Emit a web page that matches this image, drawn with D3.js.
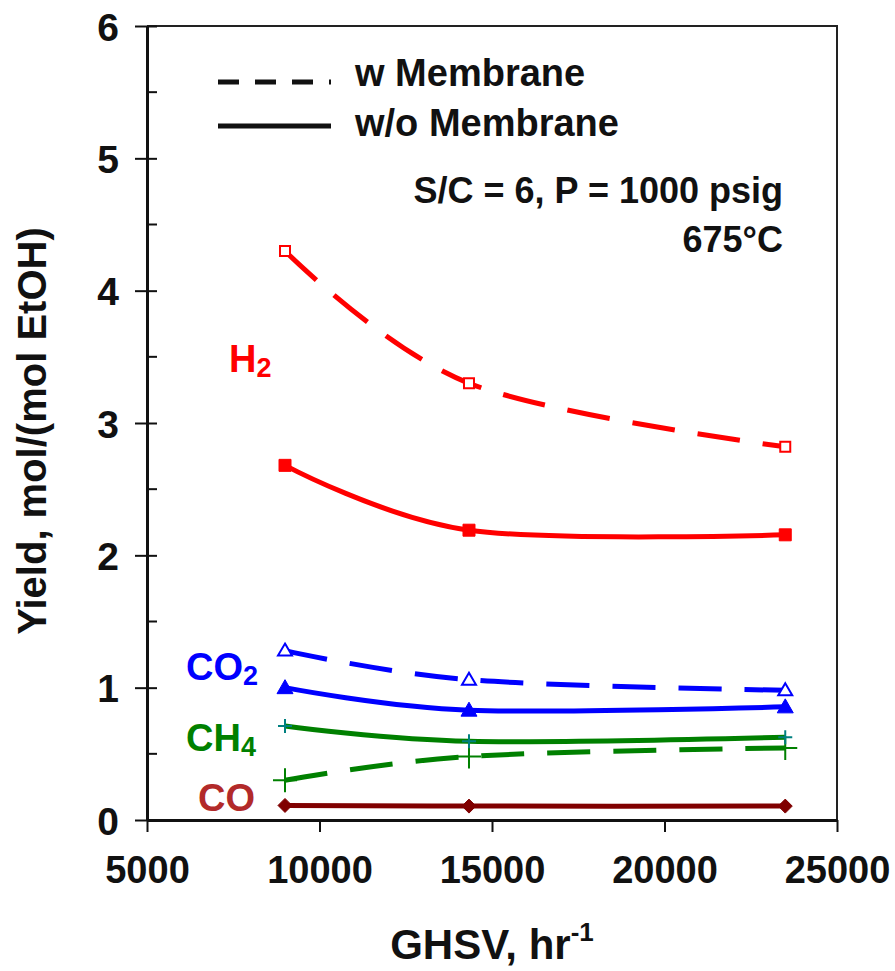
<!DOCTYPE html>
<html>
<head>
<meta charset="utf-8">
<script src="https://cdn.jsdelivr.net/npm/d3@7"></script>
<style>
  body { margin: 0; background: #fff; }
  svg text { font-family: "Liberation Sans", Arial, sans-serif; font-weight: bold; }
</style>
</head>
<body>
<div id="chart"></div>
<script>
// data
const ghsv = [9000, 14333, 23500]
const h2With = [4.30, 3.30, 2.82]
const h2Without = [2.68, 2.19, 2.155]
const co2With = [1.28, 1.06, 0.98]
const co2Without = [1.00, 0.83, 0.855]
const ch4With = [0.30, 0.48, 0.545]
const ch4Without = [0.71, 0.595, 0.625]
const coWithout = [0.11, 0.105, 0.105]

const xTicks = [5000, 10000, 15000, 20000, 25000]
const yTicks = [0, 1, 2, 3, 4, 5, 6]
const yMinor = [0.5, 1.5, 2.5, 3.5, 4.5, 5.5]

const W = 895, H = 971
const margin = { top: 26, right: 58, bottom: 151, left: 147 }

const x = d3.scaleLinear().domain([5000, 25000]).range([margin.left, W - margin.right])
const y = d3.scaleLinear().domain([0, 6]).range([H - margin.bottom, margin.top])

const svg = d3.select('#chart').append('svg')
    .attr('width', W)
    .attr('height', H)

// frame (top, right)
svg.append('path')
    .attr('d', `M${x(5000)},${y(6)}H${x(25000)}V${y(0)}`)
    .attr('fill', 'none')
    .attr('stroke', '#222')
    .attr('stroke-width', 2)

// x axis
const xAxis = svg.append('g')
    .attr('transform', `translate(0,${y(0)})`)
    .call(d3.axisBottom(x).tickValues(xTicks).tickSize(12).tickSizeOuter(0).tickFormat(d3.format('d')))
xAxis.select('.domain').attr('stroke', '#111').attr('stroke-width', 3)
xAxis.selectAll('.tick line').attr('stroke', '#111').attr('stroke-width', 2)
xAxis.selectAll('.tick text')
    .attr('fill', '#111')
    .attr('font-size', 38)
    .attr('dy', '1.25em')

// y axis, major ticks cross the axis
const yAxis = svg.append('g')
    .attr('transform', `translate(${x(5000)},0)`)
    .call(d3.axisLeft(y).tickValues(yTicks).tickSize(12).tickSizeOuter(0).tickPadding(16).tickFormat(d3.format('d')))
yAxis.select('.domain').attr('stroke', '#111').attr('stroke-width', 3)
yAxis.selectAll('.tick line').attr('stroke', '#111').attr('stroke-width', 2).attr('x2', 10).attr('x1', -12)
yAxis.selectAll('.tick text')
    .attr('fill', '#111')
    .attr('font-size', 39)
    .attr('dy', '0.36em')

svg.append('g').selectAll('line')
    .data(yMinor)
    .enter().append('line')
    .attr('x1', x(5000))
    .attr('x2', x(5000) + 10)
    .attr('y1', d => y(d))
    .attr('y2', d => y(d))
    .attr('stroke', '#111')
    .attr('stroke-width', 2)

// axis titles
svg.append('text')
    .attr('x', 492)
    .attr('y', 959)
    .attr('text-anchor', 'middle')
    .attr('font-size', 42)
    .attr('fill', '#111')
    .text('GHSV, hr')
    .append('tspan')
    .attr('font-size', 26)
    .attr('dy', -18)
    .text('-1')

svg.append('text')
    .attr('transform', `translate(46,${(y(0) + y(6)) / 2 + 8}) rotate(-90)`)
    .attr('text-anchor', 'middle')
    .attr('font-size', 40)
    .attr('fill', '#111')
    .text('Yield, mol/(mol EtOH)')

// series
const series = [
    { vals: h2With, color: '#ff0000', dash: true, marker: 'squareOpen', mcolor: '#ff0000' },
    { vals: h2Without, color: '#ff0000', dash: false, marker: 'square', mcolor: '#ff0000' },
    { vals: co2With, color: '#0000ff', dash: true, marker: 'triangleOpen', mcolor: '#0000ff' },
    { vals: co2Without, color: '#0000ff', dash: false, marker: 'triangle', mcolor: '#0000ff' },
    { vals: ch4With, color: '#008000', dash: true, marker: 'plusBig', mcolor: '#008000' },
    { vals: ch4Without, color: '#008000', dash: false, marker: 'plus', mcolor: '#008080' },
    { vals: coWithout, color: '#800000', dash: false, marker: 'diamond', mcolor: '#800000' }
]

const line = d3.line()
    .x((d, i) => x(ghsv[i]))
    .y(d => y(d))
    .curve(d3.curveCardinal.tension(0))

const markerPath = {
    squareOpen: 'M-5,-5H5V5H-5Z',
    square: 'M-6,-6H6V6H-6Z',
    triangleOpen: 'M0,-7L7,5H-7Z',
    triangle: 'M0,-8L8,6H-8Z',
    plus: 'M-7,0H7M0,-7V7',
    plusBig: 'M-12,0H12M0,-12V12',
    diamond: 'M0,-7L7,0L0,7L-7,0Z'
}

series.forEach(s => {
    svg.append('path')
        .attr('d', line(s.vals))
        .attr('fill', 'none')
        .attr('stroke', s.color)
        .attr('stroke-width', 5)
        .attr('stroke-dasharray', s.dash ? '43,23' : null)

    const filled = ['square', 'triangle', 'diamond'].includes(s.marker)
    const open = ['squareOpen', 'triangleOpen'].includes(s.marker)
    svg.append('g').selectAll('path')
        .data(s.vals)
        .enter().append('path')
        .attr('transform', (d, i) => `translate(${x(ghsv[i])},${y(d)})`)
        .attr('d', markerPath[s.marker])
        .attr('fill', filled ? s.mcolor : (open ? '#fff' : 'none'))
        .attr('stroke', s.mcolor)
        .attr('stroke-width', filled ? 1 : 2)
})

// series labels
const labels = [
    { main: 'H', sub: '2', x: 229, y: 372, color: '#ff0000' },
    { main: 'CO', sub: '2', x: 186, y: 680, color: '#0000ff' },
    { main: 'CH', sub: '4', x: 186, y: 751, color: '#008000' },
    { main: 'CO', sub: '', x: 198, y: 811, color: '#b22a2a' }
]
labels.forEach(l => {
    const t = svg.append('text')
        .attr('x', l.x)
        .attr('y', l.y)
        .attr('font-size', 38)
        .attr('fill', l.color)
        .text(l.main)
    if (l.sub) t.append('tspan').attr('font-size', 27).attr('dy', 5).text(l.sub)
})

// legend
const legend = [
    { label: 'w Membrane', dash: '21,16', y: 82, ty: 86 },
    { label: 'w/o Membrane', dash: null, y: 126, ty: 136 }
]
legend.forEach(l => {
    svg.append('line')
        .attr('x1', 218).attr('x2', 331)
        .attr('y1', l.y).attr('y2', l.y)
        .attr('stroke', '#111')
        .attr('stroke-width', 5)
        .attr('stroke-dasharray', l.dash)
    svg.append('text')
        .attr('x', 355)
        .attr('y', l.ty)
        .attr('font-size', 38)
        .attr('fill', '#111')
        .text(l.label)
})

svg.append('text')
    .attr('x', 783).attr('y', 203)
    .attr('text-anchor', 'end')
    .attr('font-size', 36)
    .attr('fill', '#111')
    .text('S/C = 6, P = 1000 psig')

svg.append('text')
    .attr('x', 783).attr('y', 252)
    .attr('text-anchor', 'end')
    .attr('font-size', 36)
    .attr('fill', '#111')
    .text('675°C')
</script>
</body>
</html>
